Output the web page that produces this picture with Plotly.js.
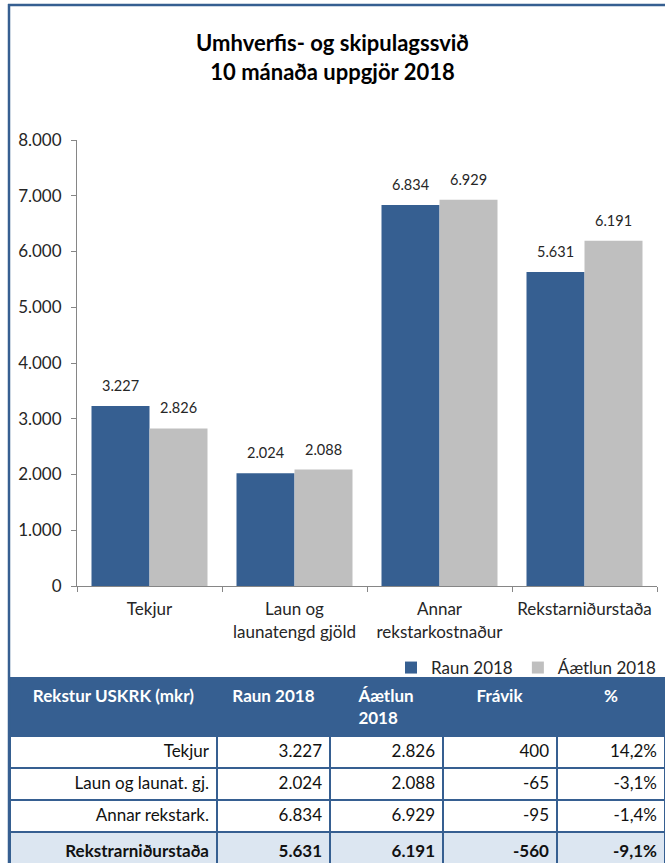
<!DOCTYPE html>
<html>
<head>
<meta charset="utf-8">
<script src="https://cdn.plot.ly/plotly-3.0.1.min.js"></script>
<style>html,body{margin:0;padding:0;background:#fff;}#chart{width:665px;height:863px;}</style>
</head>
<body>
<div id="chart"></div>
<script>
// ---- data ----
const categories = ['Tekjur', 'Laun og<br>launatengd gjöld', 'Annar<br>rekstarkostnaður', 'Rekstarniðurstaða'];
const seriesNames = ['Raun 2018', 'Áætlun 2018'];
const raun = [3227, 2024, 6834, 5631];
const aaetlun = [2826, 2088, 6929, 6191];

const tableHeader = ['Rekstur USKRK (mkr)', 'Raun 2018', 'Áætlun<br>2018', 'Frávik', '%'];
const tableRows = ['Tekjur', 'Laun og launat. gj.', 'Annar rekstark.', 'Rekstrarniðurstaða'];
const tableRaun = [3227, 2024, 6834, 5631];
const tableAaetlun = [2826, 2088, 6929, 6191];
const tableFravik = [400, -65, -95, -560];
const tablePct = [14.2, -3.1, -1.4, -9.1];

// ---- helpers ----
function fmtInt(n) {
  const s = Math.abs(Math.round(n)).toString().replace(/\B(?=(\d{3})+(?!\d))/g, '.');
  return (n < 0 ? '-' : '') + s;
}
function fmtPct(n) { return n.toFixed(1).replace('.', ',') + '%'; }

const BLUE = '#365F91';
const GRAY = '#BFBFBF';
const LIGHT = '#DCE6F1';
const FONT = 'Lato, "Open Sans", sans-serif';
const TXT = '#262626';

const traces = [
  {type: 'bar', name: seriesNames[0], x: categories, y: raun, marker: {color: BLUE}, hoverinfo: 'skip'},
  {type: 'bar', name: seriesNames[1], x: categories, y: aaetlun, marker: {color: GRAY}, hoverinfo: 'skip'}
];

// table
const nRows = tableRows.length;
const lastBold = (arr) => arr.map((v, i) => i === nRows - 1 ? '<b>' + v + '</b>' : v);
const colFill = tableRows.map((_, i) => i === nRows - 1 ? LIGHT : '#FFFFFF');
traces.push({
  type: 'table',
  domain: {x: [10 / 665, 1], y: [0, 186 / 863]},
  columnwidth: [207, 113, 113, 114, 108],
  header: {
    values: tableHeader.map(h => '<b>' + h + '</b>'),
    align: 'center',
    height: 58,
    fill: {color: BLUE},
    line: {color: BLUE, width: 1},
    font: {family: FONT, size: 17, color: '#FFFFFF'}
  },
  cells: {
    values: [
      lastBold(tableRows),
      lastBold(tableRaun.map(fmtInt)),
      lastBold(tableAaetlun.map(fmtInt)),
      lastBold(tableFravik.map(fmtInt)),
      lastBold(tablePct.map(fmtPct))
    ],
    align: 'right',
    height: 32,
    fill: {color: [colFill, colFill, colFill, colFill, colFill]},
    line: {color: BLUE, width: 2},
    font: {family: FONT, size: 17, color: '#111111'}
  }
});

// bar value labels
const annotations = [];
[raun, aaetlun].forEach((series, si) => {
  series.forEach((v, i) => {
    annotations.push({
      x: categories[i], y: v, xref: 'x', yref: 'y',
      xshift: si === 0 ? -29 : 29, yshift: 10,
      yanchor: 'bottom', showarrow: false,
      text: fmtInt(v),
      font: {family: FONT, size: 14.5, color: TXT}
    });
  });
});

const layout = {
  width: 665, height: 863,
  margin: {l: 0, r: 0, t: 0, b: 0},
  paper_bgcolor: '#FFFFFF', plot_bgcolor: '#FFFFFF',
  separators: ',.',
  font: {family: FONT, color: TXT},
  title: {
    text: 'Umhverfis- og skipulagssvið<br>10 mánaða uppgjör 2018',
    x: 0.5, xanchor: 'center', xref: 'paper',
    y: 1 - 51 / 863, yanchor: 'top', yref: 'paper',
    font: {family: FONT, size: 22, color: '#000000', weight: 'bold'}
  },
  barmode: 'group', bargap: 0.2, bargroupgap: 0,
  showlegend: true,
  legend: {
    orientation: 'h', x: 662 / 665, xanchor: 'right', y: (863 - 668) / 863, yanchor: 'middle',
    font: {family: FONT, size: 17, color: TXT}, bgcolor: 'rgba(0,0,0,0)'
  },
  xaxis: {
    domain: [77 / 665, 657 / 665],
    type: 'category',
    showline: true, linecolor: '#868686', linewidth: 1,
    ticks: 'outside', tickson: 'boundaries', ticklen: 5, tickcolor: '#868686',
    showgrid: false, zeroline: false,
    tickfont: {family: FONT, size: 17, color: TXT},
    ticklabelstandoff: 8,
    fixedrange: true
  },
  yaxis: {
    domain: [277 / 863, 723 / 863],
    range: [0, 8000], dtick: 1000, tickformat: ',d',
    showline: true, linecolor: '#868686', linewidth: 1,
    ticks: 'outside', ticklen: 5, tickcolor: '#868686',
    showgrid: false, zeroline: false,
    tickfont: {family: FONT, size: 17, color: TXT},
    ticklabelstandoff: 6,
    fixedrange: true
  },
  annotations: annotations,
  shapes: [
    {type: 'line', xref: 'paper', yref: 'paper', x0: 8 / 665, x1: 1, y0: 1 - 5 / 863, y1: 1 - 5 / 863, line: {color: BLUE, width: 2.5}},
    {type: 'line', xref: 'paper', yref: 'paper', x0: 9 / 665, x1: 9 / 665, y0: 0, y1: 1 - 4 / 863, line: {color: BLUE, width: 2.5}}
  ]
};

Plotly.newPlot('chart', traces, layout, {displayModeBar: false, staticPlot: true});
</script>
</body>
</html>
